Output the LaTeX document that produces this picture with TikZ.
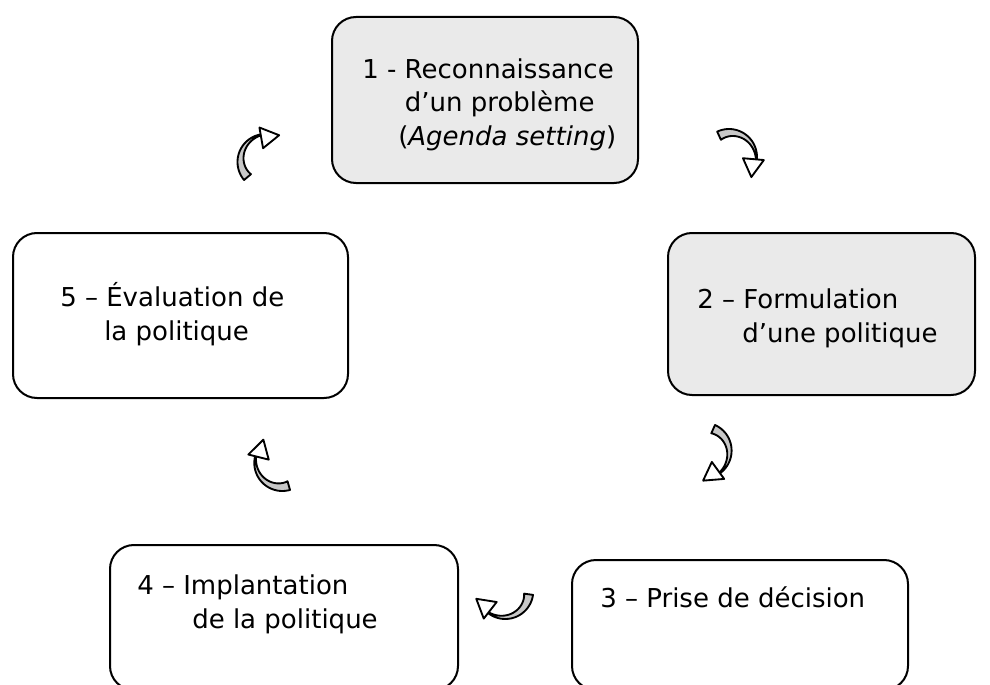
\documentclass[tikz,border=0pt]{standalone}
\usepackage{fontspec}
\setmainfont{DejaVu Sans}
\definecolor{boxgray}{RGB}{234,234,234}
\definecolor{bandgray}{RGB}{200,200,200}

\tikzset{
  cyclearrow/.pic={
    \draw[line width=1.4pt, line join=round, fill=bandgray]
      plot[domain=-70:50, samples=30] (\x:28)
      -- plot[domain=50:-70, samples=30] (\x:{19+8*(\x+70)/120}) -- cycle;
    \draw[line width=1.4pt, line join=round, fill=white]
      (50:35) -- (1.6,30) -- (50:14) -- cycle;
  }
}

\begin{document}
\begin{tikzpicture}[x=0.75pt, y=-0.75pt,
    stage/.style ={draw, line width=1.5pt, rounded corners=18pt, inner sep=0pt},
    stagetext/.style ={anchor=base west, inner sep=0pt, align=left,
      font=\fontsize{19.5}{25.5}\selectfont}]
   \useasboundingbox (0,0) rectangle (990,685);
   \clip (0,0) rectangle (990,685);
   % the five stages
   \node[stage, fill=boxgray, minimum width=229.5pt, minimum height=124.5pt] (reco) at (485,100) {};
   \node[stage, fill=boxgray, minimum width=230.25pt, minimum height=121.5pt] (formul) at (821.5,314) {};
   \node[stage, minimum width=252pt, minimum height=97.5pt] (decis) at (740,625) {};
   \node[stage, minimum width=261pt, minimum height=108.75pt] (implant) at (284,617.5) {};
   \node[stage, minimum width=251.25pt, minimum height=123.75pt] (evalu) at (180.5,315.5) {};
   % their labels (base = last line)
   \node[stagetext] (recotext) at (362,146) {1 - Reconnaissance\\
     \hspace*{32pt}d’un problème\\
     \hspace*{27pt}(\textit{Agenda setting})};
   \node[stagetext] (formultext) at (697,342) {2 – Formulation\\
     \hspace*{33.75pt}d’une politique};
   \node[stagetext] (decistext) at (600,607) {3 – Prise de décision};
   \node[stagetext] (implanttext) at (137,628) {4 – Implantation\\
     \hspace*{41.25pt}de la politique};
   \node[stagetext] (evalutext) at (60,340) {5 – Évaluation de\\
     \hspace*{33pt}la politique};
   % curved arrows between stages
   \pic[rotate=150] at (265.5,162) {cyclearrow};
   \pic[rotate=45] at (729,157) {cyclearrow};
   \pic[rotate=-4] at (703.6,450.6) {cyclearrow};
   \pic[rotate=-78] at (505.3,591) {cyclearrow};
   \pic[rotate=-144] at (282.3,463) {cyclearrow};
 \end{tikzpicture}
\end{document}
